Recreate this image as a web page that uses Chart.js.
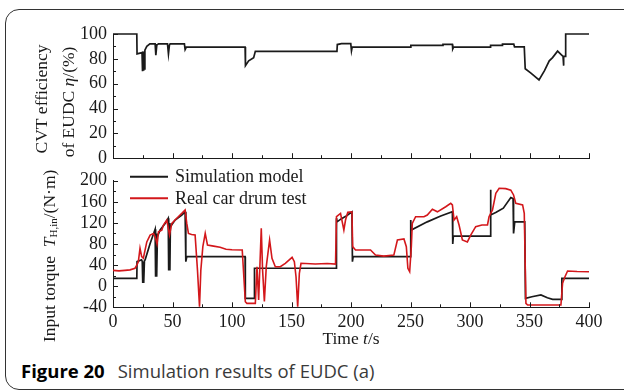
<!DOCTYPE html>
<html><head><meta charset="utf-8">
<script src="https://cdn.jsdelivr.net/npm/chart.js@4/dist/chart.umd.min.js"></script>
<style>
html,body{margin:0;padding:0;background:#fff;}
#wrap{position:relative;width:624px;height:392px;overflow:hidden;background:#fff;}
#card{position:absolute;left:5px;top:9px;width:640px;height:381px;border:1.5px solid #333;border-radius:14px;box-sizing:border-box;}
#c1{position:absolute;left:0;top:0;width:624px;height:175px;}
#c2{position:absolute;left:0;top:150px;width:624px;height:200px;}
#cap{position:absolute;left:21px;top:360.5px;font-family:'Open Sans';font-size:18.5px;line-height:20px;white-space:nowrap;color:#3a3a3a;}
#cap b{color:#000;font-weight:700;margin-right:13px;}
</style></head>
<body><div id="wrap">
<div id="card"></div>
<canvas id="c1" width="624" height="175"></canvas>
<canvas id="c2" width="624" height="200"></canvas>
<div id="cap"><b>Figure 20</b>Simulation results of EUDC (a)</div>
</div>
<script>
// ---- data ----
const effTime = [0,20,20.2,24.4,24.6,25,25.4,25.8,26.4,26.8,28.4,31,35.4,36,36.8,38.2,45.8,46.6,47.4,48,60,60.6,61.6,111,111.3,114,118.2,119.6,188.2,188.5,192,199.8,200.4,201,250,250.3,277,277.3,285.2,285.5,286.2,317,317.3,327,327.3,336.8,337.4,345.6,346.4,351.2,358,362.6,366.6,369.4,373.6,376.4,378.2,378.5,378.9,380.2,380.4,400];
const effValue = [100,100,84,85,70,86,71,86,72,87,90,92,92,83,91,92,92,84,91,92,92,87.5,89.5,89.5,74.5,78.4,81,86,86,91.5,92.2,92.2,86.5,89.5,89.5,90.8,90.8,91.6,91.6,88,89.4,89.4,90.9,90.9,91.8,91.8,89.6,89.6,72,68.5,63,70.5,78.4,81,86.2,83.6,82,74.5,82,82,100,100];

const simTime = [0,20,20.2,24,24.6,25,25.4,25.8,26.4,27,31.2,35.4,35.8,36.3,36.7,37.3,39.6,43.8,46.4,46.8,47.3,47.8,48.2,52.2,57.8,60.6,61.2,62,111,111.2,118.7,118.9,187.6,187.8,188.3,192,196,200.8,201.2,201.8,250,250.2,250.6,264.1,275.4,285.2,285.5,286,317,317.2,317.6,322,328,334.3,336.2,336.6,337.6,346,346.6,352,359.6,365,369.4,376.6,377.2,400];
const simTorque = [15,15,46.5,50,47,6,45,6,48,50,81,108,18,100,18,94,106.5,119,128.7,30,120,30,112.8,125.5,135,141,46.5,56,56,-23,-23,34,34,129,122,128,133,141,46.5,56,56,125.5,106.5,122,133,141,80,95,95,183,135,140,148,168,166,100,122,122,-23,-20,-16.5,-22,-25,-25,15,15];

const drumTime = [0,5,10,14.3,18.5,20,21.3,22.7,24.1,25.5,28.4,31.2,34,35.4,37,38.2,41,42.4,45.2,47.5,49.4,53.6,57.8,60.6,62,63.4,66,69,71,72.7,73.8,75.5,77.5,79.4,84.5,90,95,100,108.6,111.2,112.5,119.6,121,122.4,124.6,125.7,127.2,128.8,131.6,133.6,136.4,140.6,144.8,150.5,152.4,153.8,155.2,156.6,158,170,180,187,187.8,191.2,194,195.4,197.3,200.8,201.4,203.8,216.4,220.6,227.6,236,239,244.5,246.5,247.8,249.3,250.7,251.5,254.3,261.3,264.1,268.4,272.6,279.6,283.8,285.2,286.6,288.8,290.8,293.6,297.8,300.6,304.8,310,314.7,316,318.9,321.7,324.5,330,334.3,336.6,338.5,344.2,345.6,347,348.4,376.4,377.8,379.8,382,390,400];
const drumTorque = [30,29,30,31,34,40,46.5,72,56,53,84,97,100,94,80,103,106,116,125.5,97,119,128.7,138,144.5,119,100,98,97,30,-39,30,75,100,78,76,74,70,69,68.6,-29.4,-32.5,-32.5,37,-26,109.7,30.7,-29,37,87.6,53,37,37,43.4,54.7,46.5,18,-39,24.4,43.4,42,43,42,131.7,138,106.5,125.5,140,141,75,68.6,68.6,59,57,59,87.6,89.5,75,34,27.5,75,119,131.7,131.7,135,145.8,141,150.7,157,154,125.5,131.7,116,87.6,84,97,112.8,116,116,131.7,144.5,176,185.6,185,182,173,157,154,138,-32.5,-35.7,-35.7,5.5,18,28.8,28,27.5];

const effTicks = [0,20,40,60,80,100];
const torqueTicks = [-40,0,40,80,120,160,200];
const timeTicks = [0,50,100,150,200,250,300,350,400];

const seriesNames = ['Simulation model','Real car drum test'];

// ---- helpers ----
const zip = (xs, ys) => xs.map((x,i)=>({x, y: ys[i]}));
const SERIF = "'Liberation Serif', 'Times New Roman', serif";
const INK = '#1a1a1a';
const RED = '#d3171b';

function runsWidth(ctx, runs){
  let w=0; for(const r of runs){ctx.font=r.font; w+=ctx.measureText(r.t).width;} return w;
}
function drawRuns(ctx, runs, x, y){
  for(const r of runs){ctx.font=r.font; ctx.fillText(r.t, x, y+(r.dy||0)); x+=ctx.measureText(r.t).width;}
}

const inTicks = {
  id:'inTicks',
  afterDraw(chart, args, o){
    const ctx=chart.ctx, xs=chart.scales.x, ys=chart.scales.y, a=chart.chartArea;
    ctx.save(); ctx.strokeStyle=INK; ctx.lineWidth=1;
    for(let v=xs.min; v<=xs.max+1e-9; v+=o.xMinor){
      const px=Math.round(xs.getPixelForValue(v))+0.5;
      const L = (Math.abs(v % o.xMajor) < 1e-9) ? 5 : 3;
      ctx.beginPath(); ctx.moveTo(px,a.bottom); ctx.lineTo(px,a.bottom-L); ctx.stroke();
    }
    for(let v=ys.min; v<=ys.max+1e-9; v+=o.yMinor){
      const py=Math.round(ys.getPixelForValue(v))+0.5;
      const L = (Math.abs((v-ys.min) % o.yMajor) < 1e-9) ? 5 : 3;
      ctx.beginPath(); ctx.moveTo(a.left,py); ctx.lineTo(a.left+L,py); ctx.stroke();
    }
    ctx.restore();
  }
};

const titles1 = {
  id:'titles1',
  afterDraw(chart){
    const ctx=chart.ctx; ctx.save(); ctx.fillStyle=INK; ctx.textBaseline='middle'; ctx.textAlign='left';
    const reg='17.5px '+SERIF, ita='italic 17.5px '+SERIF;
    const l1=[{t:'CVT efficiency',font:reg}];
    const l2=[{t:'of EUDC ',font:reg},{t:'η',font:ita},{t:'/(%)',font:reg}];
    ctx.translate(42,99); ctx.rotate(-Math.PI/2);
    drawRuns(ctx,l1,-runsWidth(ctx,l1)/2,0);
    ctx.setTransform(1,0,0,1,0,0);
    ctx.translate(69,102); ctx.rotate(-Math.PI/2);
    drawRuns(ctx,l2,-runsWidth(ctx,l2)/2,0);
    ctx.restore();
  }
};

const titles2 = {
  id:'titles2',
  afterDraw(chart){
    const ctx=chart.ctx; ctx.save(); ctx.fillStyle=INK; ctx.textBaseline='middle'; ctx.textAlign='left';
    const reg='17.5px '+SERIF, ita='italic 17.5px '+SERIF, sub='11px '+SERIF;
    // y title
    const yt=[{t:'Input torque  ',font:reg},{t:'T',font:ita},{t:'H,in',font:sub,dy:4},{t:'/(N·m)',font:reg}];
    ctx.translate(50,192); ctx.rotate(-Math.PI/2);
    drawRuns(ctx,yt,0,0);
    ctx.setTransform(1,0,0,1,0,0);
    // x title
    const xt=[{t:'Time ',font:reg},{t:'t',font:ita},{t:'/s',font:reg}];
    drawRuns(ctx,xt,351-runsWidth(ctx,xt)/2,189);
    // legend
    const leg=[[seriesNames[0],INK,26.7],[seriesNames[1],RED,48.3]];
    ctx.font='18px '+SERIF;
    for(const [name,col,y] of leg){
      ctx.strokeStyle=col; ctx.lineWidth=2; ctx.beginPath(); ctx.moveTo(130,y); ctx.lineTo(168,y); ctx.stroke();
      ctx.fillStyle=INK; ctx.fillText(name,175,y+1);
    }
    ctx.restore();
  }
};

Chart.defaults.font.family = SERIF;
Chart.defaults.color = INK;

function axisX(showLabels, h){
  return {type:'linear', min:0, max:400,
    afterFit:s=>{s.height=h;},
    afterBuildTicks:s=>{s.ticks=timeTicks.map(v=>({value:v}));},
    grid:{display:false, drawTicks:false},
    border:{display:true,color:INK,width:1},
    ticks:{display:showLabels, autoSkip:false, padding:4, font:{size:18}, color:INK, maxRotation:0, callback:v=>String(v)}};
}
function axisY(min,max,ticksArr){
  return {type:'linear', min, max,
    afterFit:s=>{s.width=60;},
    afterBuildTicks:s=>{s.ticks=ticksArr.map(v=>({value:v}));},
    grid:{display:false, drawTicks:false},
    border:{display:true,color:INK,width:1},
    ticks:{autoSkip:false, padding:6, font:{size:18}, color:INK, callback:v=>String(v)}};
}

new Chart(document.getElementById('c1'), {
  type:'line',
  data:{datasets:[{data:zip(effTime,effValue), borderColor:INK, borderWidth:1.7, pointRadius:0, tension:0, clip:false}]},
  options:{responsive:false, devicePixelRatio:1, animation:false, events:[],
    layout:{padding:{left:53, right:35, top:34, bottom:2.7}},
    plugins:{legend:{display:false}, tooltip:{enabled:false}, inTicks:{xMinor:25,xMajor:50,yMinor:10,yMajor:20}},
    scales:{x:axisX(false,10), y:axisY(0,100,effTicks)}},
  plugins:[inTicks,titles1]
});

new Chart(document.getElementById('c2'), {
  type:'line',
  data:{datasets:[
    {label:seriesNames[0], data:zip(simTime,simTorque), borderColor:INK, borderWidth:1.7, pointRadius:0, tension:0, clip:false, order:1},
    {label:seriesNames[1], data:zip(drumTime,drumTorque), borderColor:RED, borderWidth:1.6, pointRadius:0, tension:0, clip:false, order:0}
  ]},
  options:{responsive:false, devicePixelRatio:1, animation:false, events:[],
    layout:{padding:{left:53, right:35, top:30.7, bottom:2.7}},
    plugins:{legend:{display:false}, tooltip:{enabled:false}, inTicks:{xMinor:25,xMajor:50,yMinor:20,yMajor:40}},
    scales:{x:axisX(true,40), y:axisY(-40,200,torqueTicks)}},
  plugins:[inTicks,titles2]
});
</script>
</body></html>
